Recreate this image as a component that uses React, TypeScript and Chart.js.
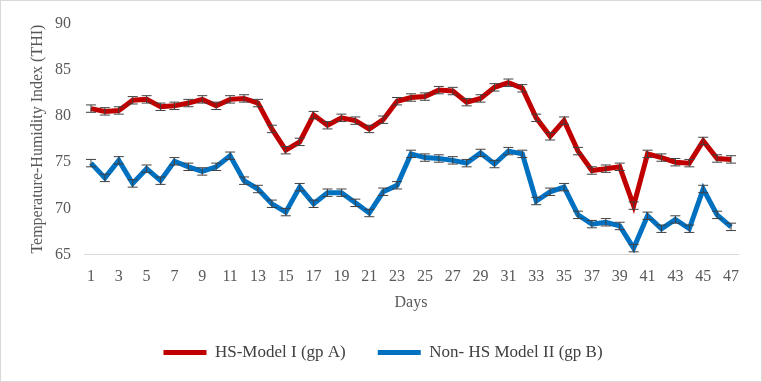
import React, { useEffect, useRef } from "react";
import { Chart, registerables } from "chart.js";

Chart.register(...registerables);

const days: string[] = [
  "1","2","3","4","5","6","7","8","9","10","11","12","13","14","15","16","17","18","19","20",
  "21","22","23","24","25","26","27","28","29","30","31","32","33","34","35","36","37","38","39","40",
  "41","42","43","44","45","46","47",
];

const hsModelA: number[] = [
  80.8, 80.5, 80.6, 81.7, 81.8, 81.0, 81.1, 81.4, 81.8, 81.1,
  81.8, 81.9, 81.4, 78.6, 76.3, 77.2, 80.1, 79.0, 79.8, 79.5,
  78.6, 79.6, 81.6, 82.0, 82.1, 82.8, 82.7, 81.5, 81.9, 83.1,
  83.6, 83.0, 79.8, 77.8, 79.5, 76.2, 74.1, 74.3, 74.5, 70.3,
  75.9, 75.5, 75.0, 74.9, 77.3, 75.4, 75.3,
];

const nonHsModelB: number[] = [
  74.9, 73.3, 75.2, 72.7, 74.3, 73.0, 75.1, 74.5, 74.0, 74.5,
  75.7, 73.0, 72.1, 70.5, 69.6, 72.3, 70.5, 71.7, 71.7, 70.6,
  69.5, 71.8, 72.5, 75.9, 75.5, 75.4, 75.2, 74.9, 76.0, 74.8,
  76.2, 75.9, 70.8, 71.8, 72.3, 69.3, 68.3, 68.5, 68.1, 65.7,
  69.2, 67.8, 68.8, 67.8, 72.1, 69.3, 68.0,
];

const errA: number[] = [
  0.4, 0.4, 0.4, 0.4, 0.4, 0.4, 0.4, 0.4, 0.4, 0.4,
  0.4, 0.4, 0.4, 0.4, 0.4, 0.4, 0.4, 0.4, 0.4, 0.4,
  0.4, 0.4, 0.4, 0.4, 0.4, 0.4, 0.4, 0.4, 0.4, 0.4,
  0.4, 0.4, 0.4, 0.4, 0.4, 0.4, 0.4, 0.4, 0.4, 0.4,
  0.4, 0.4, 0.4, 0.4, 0.4, 0.4, 0.4,
];

const errB: number[] = [
  0.4, 0.4, 0.4, 0.4, 0.4, 0.4, 0.4, 0.4, 0.4, 0.4,
  0.4, 0.4, 0.4, 0.4, 0.4, 0.4, 0.4, 0.4, 0.4, 0.4,
  0.4, 0.4, 0.4, 0.4, 0.4, 0.4, 0.4, 0.4, 0.4, 0.4,
  0.4, 0.4, 0.4, 0.4, 0.4, 0.4, 0.4, 0.4, 0.4, 0.4,
  0.4, 0.4, 0.4, 0.4, 0.4, 0.4, 0.4,
];

const seriesNames: string[] = ["HS-Model I (gp A)", "Non- HS Model II (gp B)"];
const seriesColors: string[] = ["#C00000", "#0070C0"];

const FONT = "'Liberation Serif', 'Times New Roman', serif";

const errorBarPlugin = {
  id: "errorBars",
  afterDatasetsDraw(chart: any) {
    const ctx = chart.ctx;
    const yScale = chart.scales.y;
    const errs = [errA, errB];
    ctx.save();
    ctx.strokeStyle = "#404040";
    ctx.lineWidth = 1;
    chart.data.datasets.forEach((ds: any, di: number) => {
      const meta = chart.getDatasetMeta(di);
      meta.data.forEach((pt: any, i: number) => {
        const v = ds.data[i];
        const e = errs[di][i];
        const x = pt.x;
        const yTop = yScale.getPixelForValue(v + e);
        const yBot = yScale.getPixelForValue(v - e);
        ctx.beginPath();
        ctx.moveTo(x, yTop);
        ctx.lineTo(x, yBot);
        ctx.moveTo(x - 5, yTop);
        ctx.lineTo(x + 5, yTop);
        ctx.moveTo(x - 5, yBot);
        ctx.lineTo(x + 5, yBot);
        ctx.stroke();
      });
    });
    ctx.restore();
  },
};

export default function App() {
  const canvasRef = useRef<HTMLCanvasElement | null>(null);

  useEffect(() => {
    if (!canvasRef.current) return;
    const chart = new Chart(canvasRef.current, {
      type: "line",
      data: {
        labels: days,
        datasets: [
          {
            label: seriesNames[0],
            data: hsModelA,
            borderColor: seriesColors[0],
            backgroundColor: seriesColors[0],
            borderWidth: 5,
            pointRadius: 0,
            tension: 0,
          },
          {
            label: seriesNames[1],
            data: nonHsModelB,
            borderColor: seriesColors[1],
            backgroundColor: seriesColors[1],
            borderWidth: 5,
            pointRadius: 0,
            tension: 0,
          },
        ],
      },
      plugins: [errorBarPlugin],
      options: {
        animation: false,
        responsive: false,
        layout: { padding: { left: 27, top: 15, right: 23, bottom: 10 } },
        plugins: {
          legend: {
            position: "bottom",
            labels: {
              font: { family: FONT, size: 17 },
              color: "#404040",
              boxWidth: 43,
              boxHeight: 5,
              padding: 32,
              generateLabels: (chart: any) =>
                Chart.defaults.plugins.legend.labels
                  .generateLabels(chart)
                  .map((l: any) => ({ ...l, lineWidth: 0 })),
            },
          },
          tooltip: { enabled: false },
        },
        scales: {
          x: {
            offset: true,
            grid: { display: false, drawTicks: false },
            border: { display: true, color: "#d9d9d9", width: 1 },
            ticks: {
              autoSkip: false,
              maxRotation: 0,
              padding: 13,
              color: "#595959",
              font: { family: FONT, size: 16 },
              callback: (_v: any, i: number) => (i % 2 === 0 ? days[i] : ""),
            },
            title: {
              display: true,
              text: "Days",
              color: "#595959",
              font: { family: FONT, size: 16 },
              padding: { top: -7, bottom: 0 },
            },
          },
          y: {
            min: 65,
            max: 90,
            grid: { display: false, drawTicks: false },
            border: { display: false },
            ticks: {
              stepSize: 5,
              padding: 13,
              color: "#595959",
              font: { family: FONT, size: 16 },
            },
            title: {
              display: true,
              text: "Temperature-Humidity Index (THI)",
              color: "#595959",
              font: { family: FONT, size: 16 },
              padding: 0,
            },
            afterFit: (scale: any) => {
              scale.width = 56;
            },
          },
        },
      },
    } as any);
    return () => chart.destroy();
  }, []);

  return (
    <div
      style={{
        position: "absolute",
        left: 0,
        top: 0,
        width: 762,
        height: 382,
        boxSizing: "border-box",
        border: "1px solid #d9d9d9",
        background: "#fff",
      }}
    >
      <canvas ref={canvasRef} width={760} height={380} style={{ display: "block" }} />
    </div>
  );
}
